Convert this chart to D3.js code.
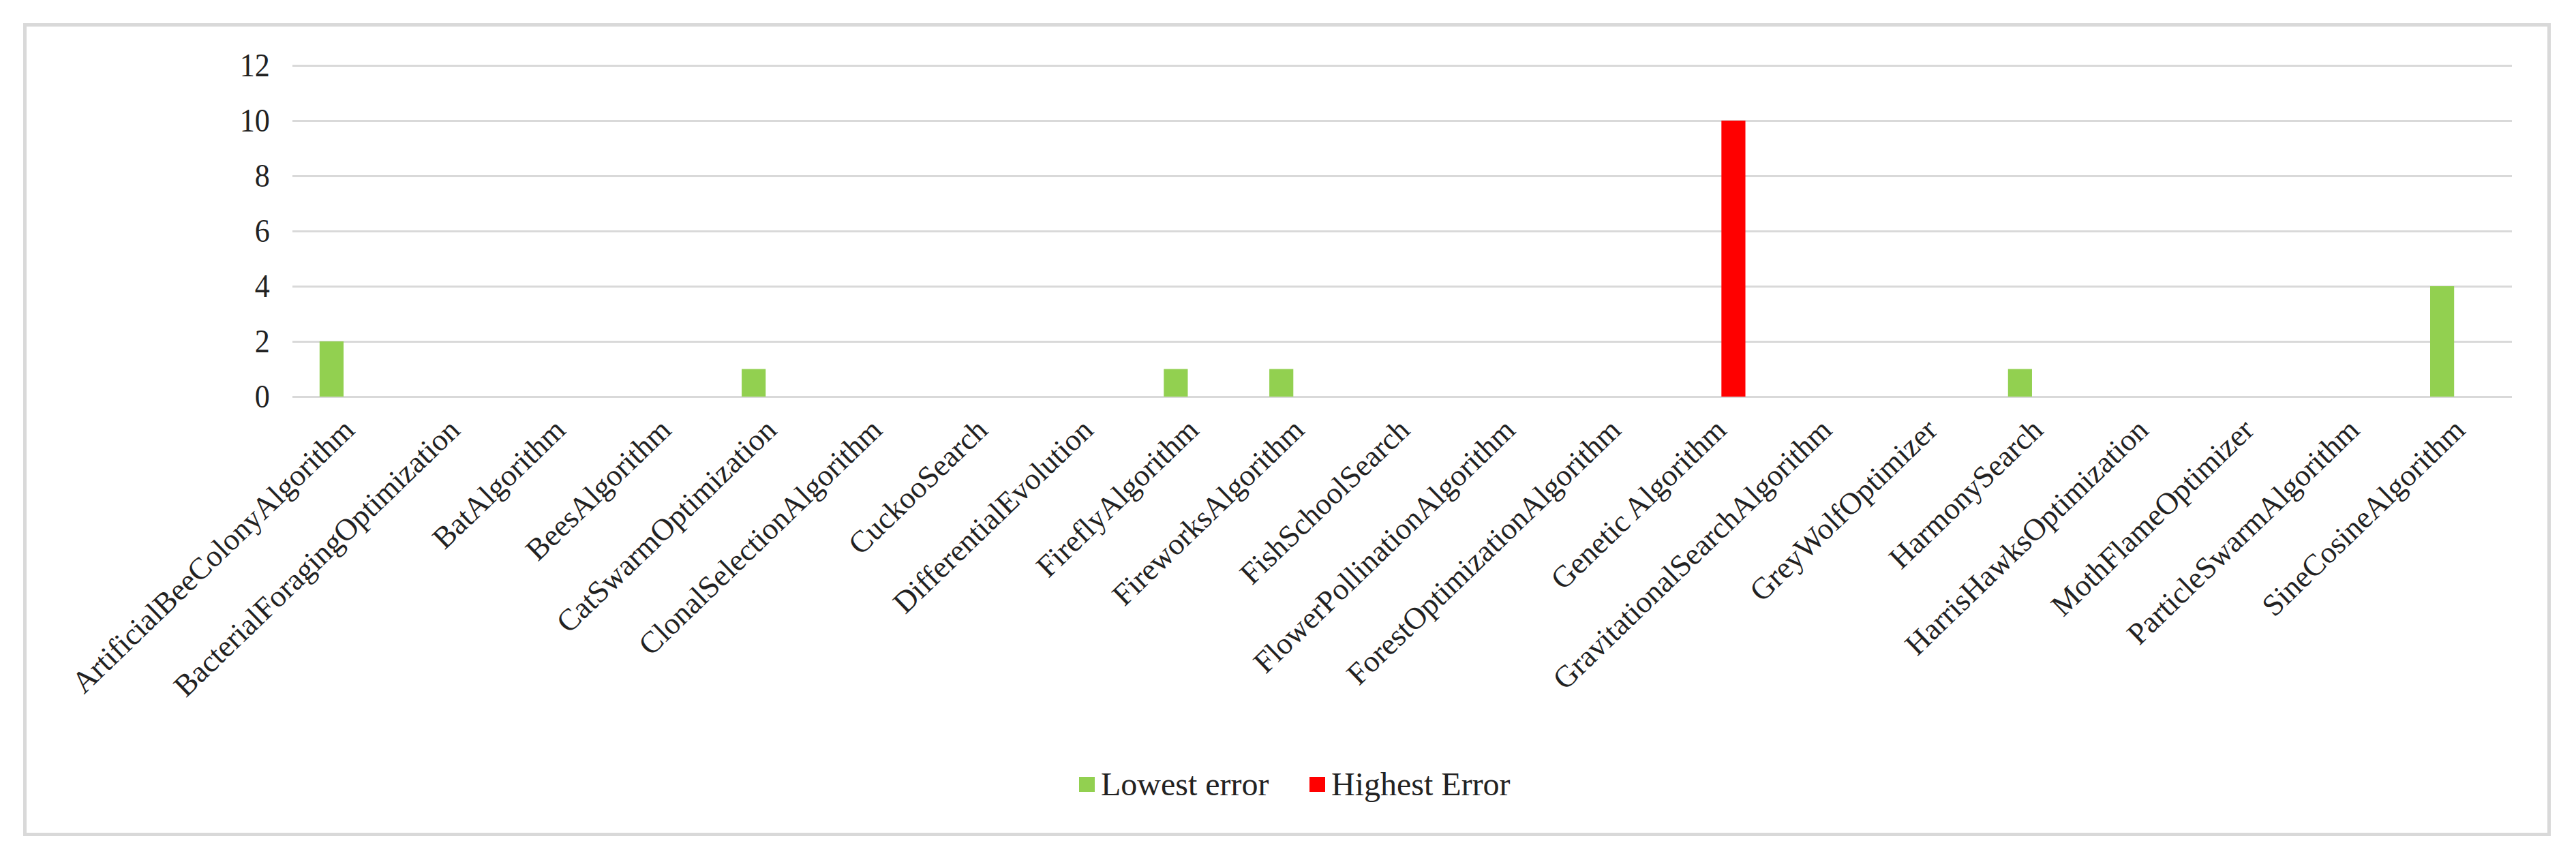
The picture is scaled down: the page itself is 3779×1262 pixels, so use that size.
<!DOCTYPE html>
<html>
<head>
<meta charset="utf-8">
<script src="https://cdn.jsdelivr.net/npm/d3@7"></script>
<style>
	body { margin: 0; background: #fff; }
	svg text { font-family: "Times New Roman", "Liberation Serif", serif; fill: #222; }
</style>
</head>
<body>
<script>
const categories = [
	'ArtificialBeeColonyAlgorithm', 'BacterialForagingOptimization', 'BatAlgorithm',
	'BeesAlgorithm', 'CatSwarmOptimization', 'ClonalSelectionAlgorithm', 'CuckooSearch',
	'DifferentialEvolution', 'FireflyAlgorithm', 'FireworksAlgorithm', 'FishSchoolSearch',
	'FlowerPollinationAlgorithm', 'ForestOptimizationAlgorithm', 'Genetic Algorithm',
	'GravitationalSearchAlgorithm', 'GreyWolfOptimizer', 'HarmonySearch',
	'HarrisHawksOptimization', 'MothFlameOptimizer', 'ParticleSwarmAlgorithm', 'SineCosineAlgorithm'
];
const seriesNames = ['Lowest error', 'Highest Error'];
const lowestError = [2, 0, 0, 0, 1, 0, 0, 0, 1, 1, 0, 0, 0, 0, 0, 0, 1, 0, 0, 0, 4];
const highestError = [0, 0, 0, 0, 0, 0, 0, 0, 0, 0, 0, 0, 0, 10, 0, 0, 0, 0, 0, 0, 0];
const yTicks = [0, 2, 4, 6, 8, 10, 12];
const seriesColors = ['#92d050', '#ff0000'];

const W = 3779, H = 1262;
const rows = categories.map((c, i) => ({ cat: c, values: [lowestError[i], highestError[i]] }));

const svg = d3.select('body').append('svg')
	.attr('width', W)
	.attr('height', H);

// outer frame
svg.append('rect')
	.attr('x', 36.5).attr('y', 36.5)
	.attr('width', 3703).attr('height', 1188)
	.attr('fill', '#fff')
	.attr('stroke', '#d9d9d9')
	.attr('stroke-width', 5);

const x0 = d3.scaleBand()
	.domain(categories)
	.range([431, 3682])
	.padding(0);

const x1 = d3.scaleBand()
	.domain(seriesNames)
	.range([0, x0.bandwidth()])
	.paddingInner(0.2)
	.paddingOuter(0.86);

const y = d3.scaleLinear()
	.domain([0, 12])
	.range([582, 96]);

const color = d3.scaleOrdinal().domain(seriesNames).range(seriesColors);

// y axis with gridlines
const yAxis = svg.append('g')
	.attr('transform', 'translate(429,0)')
	.call(d3.axisLeft(y).tickValues(yTicks).tickSize(-(3685 - 429)).tickPadding(36));
yAxis.select('.domain').remove();
yAxis.selectAll('.tick line').attr('stroke', '#d9d9d9').attr('stroke-width', 3);
yAxis.selectAll('.tick text')
	.style('font-size', '48px')
	.attr('transform', 'scale(0.92,1)');

// bars
const groups = svg.append('g').selectAll('g')
	.data(rows)
	.join('g')
	.attr('transform', d => `translate(${x0(d.cat)},0)`);

groups.selectAll('rect')
	.data(d => d.values.map((v, k) => ({ key: seriesNames[k], value: v })).filter(e => e.value > 0))
	.join('rect')
	.attr('x', d => x1(d.key))
	.attr('width', x1.bandwidth())
	.attr('y', d => y(d.value))
	.attr('height', d => y(0) - y(d.value))
	.attr('fill', d => color(d.key));

// x axis labels, rotated
const xAxis = svg.append('g')
	.attr('transform', `translate(0,${y(0)})`)
	.call(d3.axisBottom(x0).tickSize(0));
xAxis.select('.domain').remove();
xAxis.selectAll('.tick text')
	.attr('x', 0)
	.attr('y', 0)
	.attr('dy', 0)
	.attr('transform', 'translate(14,52) rotate(-44)')
	.style('text-anchor', 'end')
	.style('font-size', '45px');

// legend
const legendItems = [
	{ name: seriesNames[0], x: 1583 },
	{ name: seriesNames[1], x: 1921 }
];
const legend = svg.append('g').attr('class', 'legend');
const entries = legend.selectAll('g')
	.data(legendItems)
	.join('g')
	.attr('transform', d => `translate(${d.x},1140)`);
entries.append('rect')
	.attr('width', 23)
	.attr('height', 22)
	.attr('fill', d => color(d.name));
entries.append('text')
	.attr('x', 32)
	.attr('y', 27)
	.style('font-size', '48px')
	.text(d => d.name);
</script>
</body>
</html>
